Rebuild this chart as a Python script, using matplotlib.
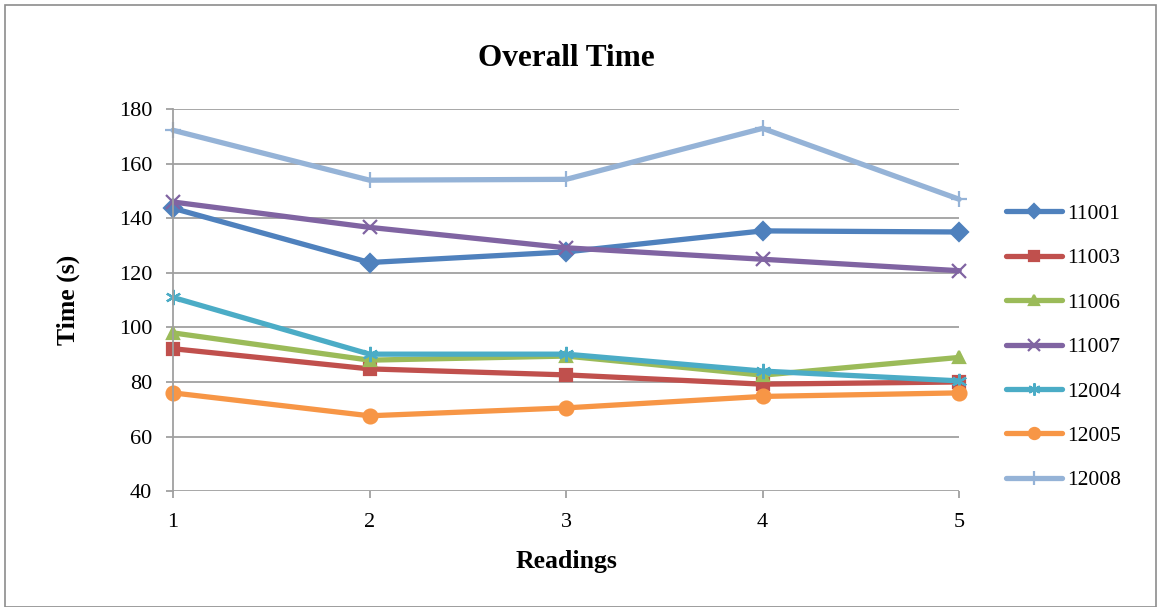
import matplotlib.pyplot as plt
from matplotlib.patches import Rectangle

plt.rcParams['font.family'] = ['Liberation Serif', 'DejaVu Serif']

# readings 1..5 per unit
readings = [1, 2, 3, 4, 5]
t_11001 = [143.7, 123.8, 127.7, 135.4, 135.0]
t_11003 = [92.2, 84.8, 82.6, 79.2, 80.0]
t_11006 = [98.0, 88.0, 89.5, 82.5, 89.0]
t_11007 = [146.0, 136.7, 129.2, 125.0, 120.8]
t_12004 = [111.0, 90.2, 90.2, 84.0, 80.4]
t_12005 = [76.0, 67.6, 70.5, 74.7, 76.0]
t_12008 = [172.3, 154.0, 154.3, 173.0, 147.0]

series = [
    ('11001', t_11001, '#4F81BD', 'D', 9),
    ('11003', t_11003, '#C0504D', 's', 9),
    ('11006', t_11006, '#9BBB59', '^', 9),
    ('11007', t_11007, '#8064A2', 'x', 10),
    ('12004', t_12004, '#4BACC6', (6, 2, 0), 11),
    ('12005', t_12005, '#F79646', 'o', 10),
    ('12008', t_12008, '#95B3D7', '+', 12),
]

fig = plt.figure(figsize=(11.57, 6.07), dpi=100)
ax = fig.add_axes([0.1495, 0.191, 0.6795, 0.629])

for name, vals, col, mk, ms in series:
    ax.plot(readings, vals, color=col, lw=3.8, marker=mk, markersize=ms,
            markeredgecolor=col, markeredgewidth=1.6, label=name,
            solid_capstyle='round', clip_on=False)

ax.set_xlim(1, 5)
ax.set_ylim(40, 180)
ax.set_xticks(readings)
ax.set_yticks(range(40, 181, 20))
ax.grid(axis='y', color='#A0A0A0', lw=1.3)
ax.set_axisbelow(True)
for s in ['top', 'right', 'bottom']:
    ax.spines[s].set_visible(False)
ax.spines['left'].set_color('#A0A0A0')
ax.spines['left'].set_linewidth(1.3)
ax.tick_params(colors='#A0A0A0', labelcolor='black', labelsize=16, length=5, width=1.3)
ax.tick_params(axis='y', pad=10)
ax.tick_params(axis='x', pad=11)

ax.set_title('Overall Time', fontsize=22.5, fontweight='bold', pad=31)
ax.set_xlabel('Readings', fontsize=18.5, fontweight='bold', labelpad=13)
ax.set_ylabel('Time (s)', fontsize=18.5, fontweight='bold', labelpad=28)

fig.legend(loc='upper left', bbox_to_anchor=(0.853, 0.696), frameon=False,
           fontsize=15.5, handlelength=2.6, labelspacing=1.13, handletextpad=0.25,
           markerscale=0.8)

fig.patches.append(Rectangle((0.004, 0.0), 0.995, 0.992, transform=fig.transFigure,
                             fill=False, edgecolor='#8C8C8C', lw=1.2))

fig.savefig('out.png', dpi=100)
